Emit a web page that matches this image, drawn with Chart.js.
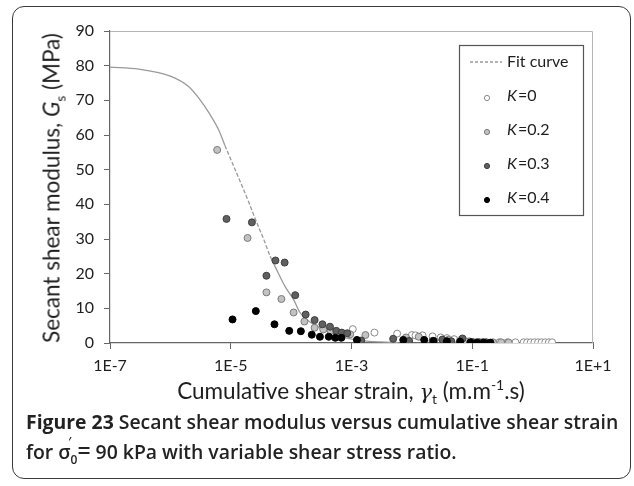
<!DOCTYPE html>
<html>
<head>
<meta charset="utf-8">
<script src="https://cdn.jsdelivr.net/npm/chart.js@4.4.1/dist/chart.umd.min.js"></script>
<style>
  body { margin: 0; background: #fff; }
  #wrap { position: relative; width: 634px; height: 486px; overflow: hidden; }
  #frame { position: absolute; left: 12px; top: 6px; width: 619px; height: 473px;
           border: 1.6px solid #3a3a3a; border-radius: 12px; box-sizing: border-box; }
  canvas { position: absolute; left: 0; top: 0; }
  .ttl { position: absolute; font-family: Lato, sans-serif; font-size: 22.5px; color: #1e1e1e;
         white-space: nowrap; transform: translate(-50%, -50%); }
  #ytitle { left: 51px; top: 188px; transform: translate(-50%, -50%) rotate(-90deg); }
  #xtitle { left: 351px; top: 390px; }
  .gam { font-family: "DejaVu Serif", serif; font-style: italic; font-size: 21px; }
  sub, sup { font-size: 0.62em; line-height: 0; }
  #caption { position: absolute; left: 26px; top: 408px; font-family: "Open Sans", sans-serif;
             font-size: 19.4px; font-weight: 600; line-height: 28px; color: #222; white-space: nowrap; }
  #caption b { font-weight: 700; }
  .sig { position: relative; }
  .pr { position: absolute; left: 10px; top: -10px; font-size: 12px; }
</style>
</head>
<body>
<div id="wrap">
  <div id="frame"></div>
  <canvas id="chart" width="634" height="486"></canvas>
  <div class="ttl" id="ytitle">Secant shear modulus, <i>G</i><sub>s</sub> (MPa)</div>
  <div class="ttl" id="xtitle">Cumulative shear strain, <span class="gam">γ</span><sub>t</sub> (m.m<sup>-1</sup>.s)</div>
  <div id="caption"><b>Figure 23</b> Secant shear modulus versus cumulative shear strain<br>for <span class="sig">σ<sub>0</sub><span class="pr">′</span></span><span style="font-size:23px">=</span> 90 kPa with variable shear stress ratio.</div>
</div>
<script>
// fitted G–γ curve
const fitStrain = [1e-7, 3e-7, 1e-6, 2e-6, 3e-6, 4.5e-6, 6.3e-6, 8e-6, 1e-5, 1.4e-5, 2e-5, 2.6e-5,
  3.5e-5, 4.5e-5, 6e-5, 8e-5, 1.1e-4, 1.4e-4, 2e-4, 3e-4, 5e-4, 8e-4, 1.5e-3, 3e-3, 6e-3];
const fitG = [79.6, 79.0, 77.0, 74.0, 70.5, 66.0, 61.5, 57.0, 53.0, 47.0, 40.5, 35.4,
  30.0, 25.0, 20.5, 16.2, 12.5, 8.8, 6.2, 4.3, 2.6, 1.5, 0.7, 0.3, 0.1];

// K = 0
const k0Strain = [1.05e-3, 2.4e-3, 5.7e-3, 1.0e-2, 1.15e-2, 1.5e-2, 2.2e-2, 3.0e-2, 3.8e-2, 5.0e-2,
  6.3e-2, 8.9e-2, 0.12, 0.17, 0.28, 0.38, 0.52, 0.71, 0.81, 0.93, 1.07, 1.23, 1.41, 1.62, 1.86, 2.1];
const k0G = [4.0, 3.0, 2.7, 2.3, 2.2, 2.2, 1.9, 1.6, 1.4, 1.1,
  0.8, 0.5, 0.3, 0.25, 0.2, 0.2, 0.2, 0.2, 0.2, 0.2, 0.2, 0.2, 0.2, 0.2, 0.2, 0.2];

// K = 0.2
const k02Strain = [5.96e-6, 1.9e-5, 3.9e-5, 6.9e-5, 1.1e-4, 1.66e-4, 2.45e-4, 3.4e-4, 4.5e-4, 9.5e-4,
  1.7e-3, 8e-3, 1.3e-2, 4e-2, 8e-2, 0.15, 0.22, 0.3, 0.4];
const k02G = [55.7, 30.3, 14.6, 12.7, 8.8, 6.2, 4.4, 3.9, 3.5, 2.5,
  2.3, 1.6, 1.8, 0.9, 0.4, 0.3, 0.2, 0.2, 0.15];

// K = 0.3
const k03Strain = [8.5e-6, 2.24e-5, 3.9e-5, 5.5e-5, 7.8e-5, 1.17e-4, 1.74e-4, 2.45e-4, 3.3e-4, 4.4e-4,
  5.6e-4, 6.9e-4, 8.5e-4, 1.45e-3, 4.9e-3, 9e-3, 2.2e-2, 3.2e-2, 4.5e-2, 6.9e-2, 0.1, 0.13, 0.17];
const k03G = [35.8, 34.8, 19.4, 23.8, 23.2, 13.8, 8.2, 6.6, 5.4, 4.7,
  3.5, 3.0, 2.8, 0.7, 1.2, 0.6, 0.6, 1.0, 0.5, 1.3, 0.3, 0.2, 0.15];

// K = 0.4
const k04Strain = [1.07e-5, 2.6e-5, 5.3e-5, 9.3e-5, 1.45e-4, 2.2e-4, 3.0e-4, 4.2e-4, 5.4e-4, 6.8e-4,
  1.23e-3, 7.2e-3, 1.6e-2, 2.3e-2, 3.8e-2, 6.3e-2, 9.3e-2, 0.12, 0.155, 0.2];
const k04G = [6.8, 9.2, 5.4, 3.5, 3.4, 2.4, 1.8, 1.8, 1.5, 1.5,
  0.9, 0.9, 0.9, 0.6, 0.5, 0.4, 0.2, 0.1, 0.1, 0.1];

const seriesNames = ['Fit curve', 'K=0', 'K=0.2', 'K=0.3', 'K=0.4'];
const xTickValues = [1e-7, 1e-5, 1e-3, 1e-1, 1e1];
const xTickLabels = ['1E-7', '1E-5', '1E-3', '1E-1', '1E+1'];

const pts = (xs, ys) => xs.map((x, i) => ({ x: x, y: ys[i] }));

const marker = (fill, edge, order, xs, ys, name) => ({
  label: name,
  data: pts(xs, ys),
  backgroundColor: fill,
  borderColor: edge,
  borderWidth: 1,
  pointRadius: 3.5,
  order: order
});

// top/right frame of the plot area
const plotFrame = {
  id: 'plotFrame',
  beforeDatasetsDraw(chart) {
    const { ctx, chartArea: a } = chart;
    ctx.save();
    ctx.strokeStyle = '#b5b5b5';
    ctx.lineWidth = 1;
    ctx.beginPath();
    ctx.moveTo(a.left, a.top + 0.5);
    ctx.lineTo(a.right - 0.5, a.top + 0.5);
    ctx.lineTo(a.right - 0.5, a.bottom);
    ctx.stroke();
    ctx.restore();
  }
};

// boxed legend with italic K
const boxLegend = {
  id: 'boxLegend',
  afterDraw(chart) {
    const { ctx, chartArea: a } = chart;
    const left = a.right - 134, top = a.top + 14, w = 124, h = 170;
    ctx.save();
    ctx.fillStyle = '#fff';
    ctx.fillRect(left, top, w, h);
    ctx.strokeStyle = '#555';
    ctx.lineWidth = 1.2;
    ctx.strokeRect(left + 0.5, top + 0.5, w, h);
    const rowY = [17, 51, 85, 119, 153];
    const textX = left + 48;
    ctx.textBaseline = 'middle';
    chart.data.datasets.forEach((ds, i) => {
      const y = top + rowY[i];
      if (i === 0) {
        ctx.strokeStyle = ds.borderColor;
        ctx.lineWidth = 1.3;
        ctx.setLineDash([3, 2]);
        ctx.beginPath();
        ctx.moveTo(left + 11, y);
        ctx.lineTo(left + 43, y);
        ctx.stroke();
        ctx.setLineDash([]);
        ctx.fillStyle = '#1e1e1e';
        ctx.font = '16px Lato';
        ctx.fillText(ds.label, textX, y);
      } else {
        ctx.beginPath();
        ctx.arc(left + 28, y + 2, 2.6, 0, Math.PI * 2);
        ctx.fillStyle = ds.backgroundColor;
        ctx.fill();
        ctx.strokeStyle = ds.borderColor;
        ctx.lineWidth = 1;
        ctx.stroke();
        ctx.fillStyle = '#1e1e1e';
        ctx.font = 'italic 16px Lato';
        const k = ds.label.charAt(0);
        ctx.fillText(k, textX, y);
        const kw = ctx.measureText(k).width;
        ctx.font = '16px Lato';
        ctx.fillText(ds.label.slice(1), textX + kw + 1, y);
      }
    });
    ctx.restore();
  }
};

new Chart(document.getElementById('chart'), {
  type: 'scatter',
  data: {
    datasets: [
      {
        label: seriesNames[0],
        data: pts(fitStrain, fitG),
        showLine: true,
        pointRadius: 0,
        borderColor: '#9a9a9a',
        borderWidth: 1.3,
        cubicInterpolationMode: 'monotone',
        segment: {
          borderDash: c => (c.p0.parsed.y < 58 && c.p1.parsed.y > 22) ? [4, 2] : undefined
        },
        order: 5
      },
      marker('#ffffff', '#8a8a8a', 4, k0Strain, k0G, seriesNames[1]),
      marker('#c2c2c2', '#7a7a7a', 3, k02Strain, k02G, seriesNames[2]),
      marker('#606060', '#3e3e3e', 2, k03Strain, k03G, seriesNames[3]),
      marker('#000000', '#000000', 1, k04Strain, k04G, seriesNames[4])
    ]
  },
  options: {
    responsive: false,
    animation: false,
    devicePixelRatio: 1,
    layout: { padding: { top: 31, right: 41, left: 0, bottom: 0 } },
    plugins: { legend: { display: false }, tooltip: { enabled: false } },
    scales: {
      x: {
        type: 'logarithmic',
        min: 1e-7,
        max: 10,
        afterBuildTicks: s => { s.ticks = xTickValues.map(v => ({ value: v })); },
        afterFit: s => { s.height = 143; },
        ticks: {
          callback: (v, i) => xTickLabels[i],
          font: { family: 'Lato', size: 16 },
          color: '#1e1e1e',
          padding: 7,
          maxRotation: 0,
          autoSkip: false
        },
        grid: { drawOnChartArea: false, tickLength: 6, color: '#666' },
        border: { color: '#666', width: 1.2 }
      },
      y: {
        min: 0,
        max: 90,
        afterFit: s => { s.width = 110; },
        ticks: {
          stepSize: 10,
          font: { family: 'Lato', size: 16 },
          color: '#1e1e1e',
          padding: 10
        },
        grid: { drawOnChartArea: false, tickLength: 6, color: '#666' },
        border: { color: '#666', width: 1.2 }
      }
    }
  },
  plugins: [plotFrame, boxLegend]
});
</script>
</body>
</html>
